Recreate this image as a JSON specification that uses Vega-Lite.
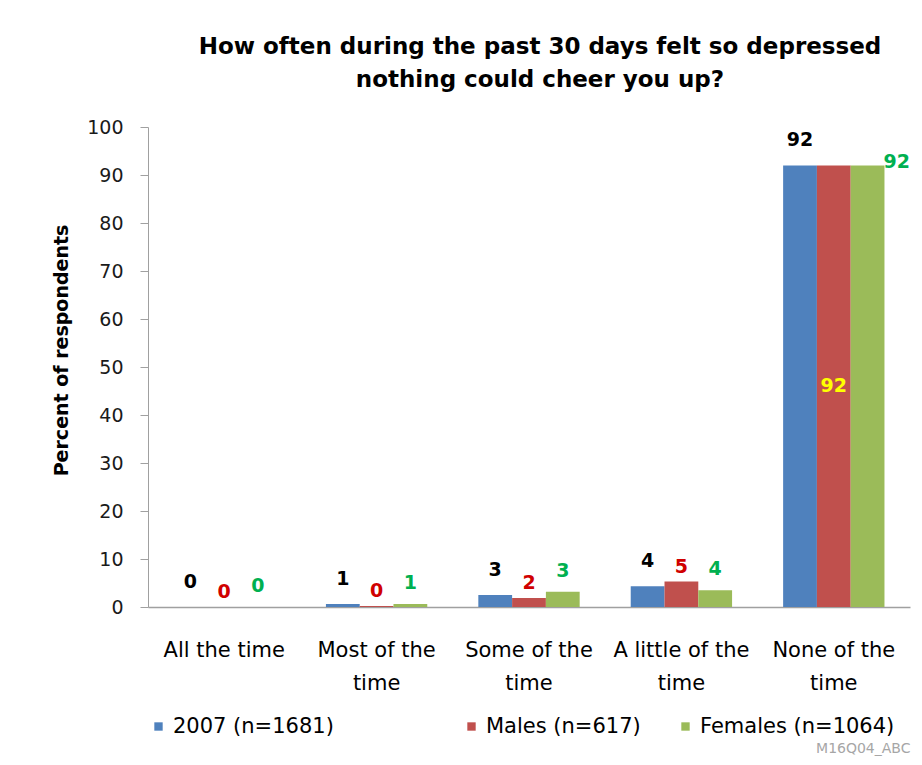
{
  "$schema": "https://vega.github.io/schema/vega-lite/v6.json",
  "width": 762,
  "height": 480,
  "autosize": "none",
  "padding": {"left": 148, "top": 127, "right": 12, "bottom": 158},
  "background": "white",
  "config": {
    "view": {"stroke": null},
    "font": "DejaVu Sans",
    "legend": {
      "title": null,
      "orient": "none",
      "direction": "horizontal",
      "symbolType": "square",
      "symbolSize": 70,
      "symbolStrokeWidth": 0,
      "labelFont": "DejaVu Sans",
      "labelFontSize": 21,
      "labelColor": "black",
      "labelOffset": 4,
      "labelLimit": 0,
      "padding": 0
    }
  },
  "title": {
    "text": ["How often during the past 30 days felt so depressed", "nothing could cheer you up?"],
    "font": "DejaVu Sans",
    "fontSize": 23,
    "fontWeight": "bold",
    "lineHeight": 33,
    "color": "black",
    "anchor": "middle",
    "frame": "group",
    "dx": 11,
    "offset": 26
  },
  "data": {
    "values": [
      {"category": "All the time", "series": "2007 (n=1681)", "value": 0},
      {"category": "All the time", "series": "Males (n=617)", "value": 0},
      {"category": "All the time", "series": "Females (n=1064)", "value": 0},
      {"category": "Most of the time", "series": "2007 (n=1681)", "value": 0.6},
      {"category": "Most of the time", "series": "Males (n=617)", "value": 0.2},
      {"category": "Most of the time", "series": "Females (n=1064)", "value": 0.6},
      {"category": "Some of the time", "series": "2007 (n=1681)", "value": 2.5},
      {"category": "Some of the time", "series": "Males (n=617)", "value": 1.9},
      {"category": "Some of the time", "series": "Females (n=1064)", "value": 3.2},
      {"category": "A little of the time", "series": "2007 (n=1681)", "value": 4.3},
      {"category": "A little of the time", "series": "Males (n=617)", "value": 5.3},
      {"category": "A little of the time", "series": "Females (n=1064)", "value": 3.5},
      {"category": "None of the time", "series": "2007 (n=1681)", "value": 92},
      {"category": "None of the time", "series": "Males (n=617)", "value": 92},
      {"category": "None of the time", "series": "Females (n=1064)", "value": 92}
    ]
  },
  "resolve": {"scale": {"color": "independent"}, "legend": {"color": "independent"}},
  "encoding": {
    "x": {
      "field": "category",
      "type": "nominal",
      "sort": null,
      "scale": {"paddingInner": 0.335, "paddingOuter": 0.1675},
      "axis": {
        "title": "M16Q04_ABC",
        "titleFont": "DejaVu Sans",
        "titleFontSize": 14,
        "titleFontWeight": "normal",
        "titleColor": "#a6a6a6",
        "titleAnchor": "end",
        "titleAlign": "right",
        "titleBaseline": "middle",
        "titleX": 762,
        "titleY": 141,
        "labelAngle": 0,
        "labelFont": "DejaVu Sans",
        "labelFontSize": 21,
        "labelColor": "black",
        "labelLineHeight": 33,
        "labelPadding": 32,
        "labelBaseline": "top",
        "labelExpr": "datum.label != 'All the time' && indexof(datum.label, ' time') > 0 ? [replace(datum.label, ' time', ''), 'time'] : datum.label",
        "ticks": false,
        "domainColor": "#a0a0a0",
        "domainWidth": 1.5,
        "grid": false
      }
    },
    "xOffset": {"field": "series", "type": "nominal", "scale": {"domain": ["2007 (n=1681)", "Males (n=617)", "Females (n=1064)"], "paddingInner": 0, "paddingOuter": 0}},
    "y": {
      "field": "value",
      "type": "quantitative",
      "scale": {"domain": [0, 100], "nice": false},
      "axis": {
        "title": "Percent of respondents",
        "titleFont": "DejaVu Sans",
        "titleFontSize": 19,
        "titleFontWeight": "bold",
        "titleColor": "black",
        "titlePadding": 15,
        "titleY": 223,
        "values": [0, 10, 20, 30, 40, 50, 60, 70, 80, 90, 100],
        "labelFont": "DejaVu Sans",
        "labelFontSize": 19,
        "labelColor": "#1a1a1a",
        "labelPadding": 17,
        "tickSize": 8,
        "tickColor": "#a0a0a0",
        "domainColor": "#a0a0a0",
        "grid": false
      }
    }
  },
  "layer": [
    {
      "transform": [{"filter": "datum.series == '2007 (n=1681)'"}],
      "mark": {"type": "bar"},
      "encoding": {
        "color": {"field": "series", "type": "nominal", "scale": {"domain": ["2007 (n=1681)"], "range": ["#4f81bd"]}, "legend": {"legendX": 0, "legendY": 589}}
      }
    },
    {
      "transform": [{"filter": "datum.series == 'Males (n=617)'"}],
      "mark": {"type": "bar"},
      "encoding": {
        "color": {"field": "series", "type": "nominal", "scale": {"domain": ["Males (n=617)"], "range": ["#c0504d"]}, "legend": {"legendX": 313, "legendY": 589}}
      }
    },
    {
      "transform": [{"filter": "datum.series == 'Females (n=1064)'"}],
      "mark": {"type": "bar"},
      "encoding": {
        "color": {"field": "series", "type": "nominal", "scale": {"domain": ["Females (n=1064)"], "range": ["#9bbb59"]}, "legend": {"legendX": 527, "legendY": 589}}
      }
    },
    {
      "transform": [{"filter": "datum.series == '2007 (n=1681)'"}],
      "mark": {"type": "text", "dy": -25, "fontWeight": "bold", "fontSize": 19, "font": "DejaVu Sans", "baseline": "middle", "color": "black"},
      "encoding": {
        "text": {"field": "value", "type": "quantitative", "format": ".0f"}
      }
    },
    {
      "transform": [{"filter": "datum.series == 'Males (n=617)' && datum.category != 'None of the time'"}],
      "mark": {"type": "text", "dy": -15, "fontWeight": "bold", "fontSize": 19, "font": "DejaVu Sans", "baseline": "middle", "color": "#d00000"},
      "encoding": {
        "text": {"field": "value", "type": "quantitative", "format": ".0f"}
      }
    },
    {
      "transform": [{"filter": "datum.series == 'Females (n=1064)' && datum.category != 'None of the time'"}],
      "mark": {"type": "text", "dy": -21, "fontWeight": "bold", "fontSize": 19, "font": "DejaVu Sans", "baseline": "middle", "color": "#00b050"},
      "encoding": {
        "text": {"field": "value", "type": "quantitative", "format": ".0f"}
      }
    },
    {
      "transform": [{"filter": "datum.series == 'Males (n=617)' && datum.category == 'None of the time'"}],
      "mark": {"type": "text", "fontWeight": "bold", "fontSize": 19, "font": "DejaVu Sans", "baseline": "middle", "color": "#ffff00"},
      "encoding": {
        "y": {"field": "value", "type": "quantitative", "stack": "zero", "bandPosition": 0.5},
        "text": {"field": "value", "type": "quantitative", "format": ".0f"}
      }
    },
    {
      "transform": [{"filter": "datum.series == 'Females (n=1064)' && datum.category == 'None of the time'"}],
      "mark": {"type": "text", "fontWeight": "bold", "fontSize": 19, "font": "DejaVu Sans", "baseline": "middle", "align": "left", "dx": 16, "dy": -3, "color": "#00b050"},
      "encoding": {
        "text": {"field": "value", "type": "quantitative", "format": ".0f"}
      }
    }
  ]
}
